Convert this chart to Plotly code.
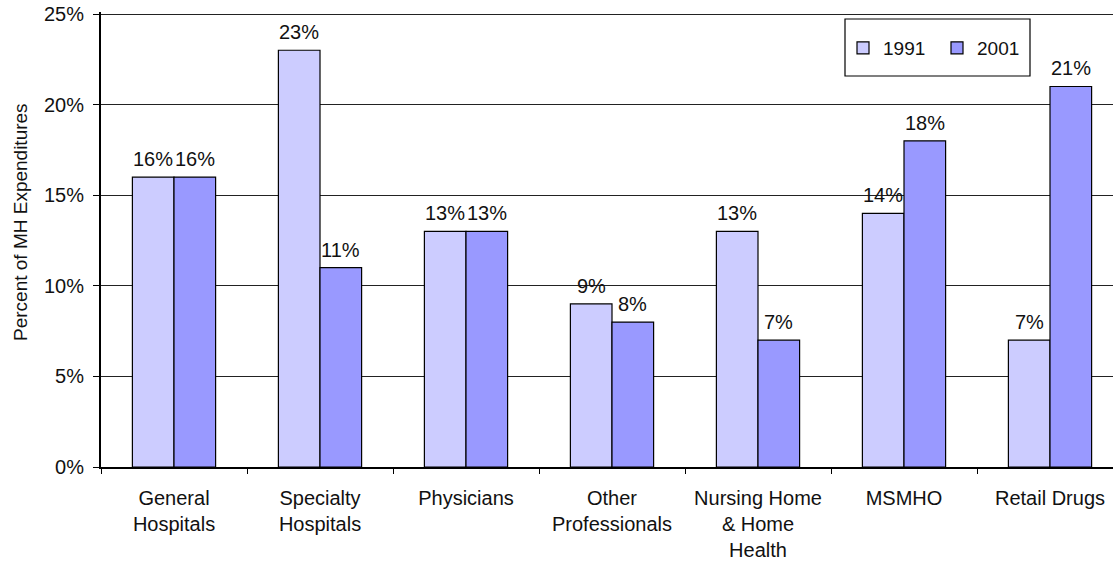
import plotly.graph_objects as go

categories = ["General<br>Hospitals", "Specialty<br>Hospitals", "Physicians", "Other<br>Professionals",
              "Nursing Home<br>& Home<br>Health", "MSMHO", "Retail Drugs"]
values_1991 = [16, 23, 13, 9, 13, 14, 7]
values_2001 = [16, 11, 13, 8, 7, 18, 21]
y_ticks = [0, 5, 10, 15, 20, 25]
y_tick_labels = ["0%", "5%", "10%", "15%", "20%", "25%"]

FONT = "Liberation Sans, Arial, sans-serif"
TXT = "#111"
OFF = 0                      # page body margin (removed by post_script)
W, H = 1113 - OFF, 567 - OFF
px_per_unit = 453 / 25.0
y_top = 25 + 2 / px_per_unit
SX0, SY1 = 101, 467           # plot area left / bottom in screen px
SY0 = SY1 - y_top * px_per_unit
ML, MT, MB, MR = SX0 - OFF, SY0 - OFF, 567 - SY1, 0
pw = W - ML - MR
ph = H - MT - MB
cat_w = 146.0
x_hi = pw / cat_w - 0.5
bargap = 0.43
half_bar = cat_w * (1 - bargap) / 4


def sx(p):
    return (p - SX0) / pw


def sy(p):
    return (SY1 - p) / ph


fig = go.Figure()
fig.add_trace(go.Bar(
    name="1991", x=categories, y=values_1991,
    marker=dict(color="#CCCCFF", line=dict(color="black", width=1.2)),
))
fig.add_trace(go.Bar(
    name="2001", x=categories, y=values_2001,
    marker=dict(color="#9999FF", line=dict(color="black", width=1.2)),
))

for vals, shift in ((values_1991, -half_bar), (values_2001, half_bar)):
    for c, v in zip(categories, vals):
        fig.add_annotation(x=c, y=v, xref="x", yref="y", text=f"{v}%", showarrow=False,
                           xshift=shift, yshift=5, yanchor="bottom", xanchor="center",
                           font=dict(family=FONT, size=20, color=TXT))

fig.add_shape(type="rect", xref="paper", yref="paper",
              x0=sx(845), x1=sx(1030), y0=sy(76), y1=sy(19),
              line=dict(color="black", width=1.2), fillcolor="white", layer="below")

fig.add_annotation(text="Percent of MH Expenditures", xref="paper", yref="paper",
                   x=sx(20), y=sy(222), textangle=-90,
                   showarrow=False, font=dict(family=FONT, size=19, color=TXT),
                   xanchor="center", yanchor="middle")

fig.update_layout(
    width=W, height=H,
    margin=dict(l=ML, r=MR, t=MT, b=MB, autoexpand=False),
    paper_bgcolor="white", plot_bgcolor="rgba(0,0,0,0)",
    barmode="group", bargap=bargap, bargroupgap=0,
    font=dict(family=FONT, size=20, color=TXT),
    showlegend=True,
    legend=dict(orientation="h", x=sx(843), y=sy(48),
                xanchor="left", yanchor="middle", bgcolor="rgba(0,0,0,0)",
                font=dict(family=FONT, size=19, color=TXT),
                entrywidth=49, itemwidth=30),
)
fig.update_xaxes(
    range=[-0.5, x_hi], showline=True, linecolor="black", linewidth=1.5,
    ticks="outside", tickson="boundaries", ticklen=5, tickcolor="black",
    ticklabelstandoff=12,
    tickfont=dict(family=FONT, size=20, color=TXT), showgrid=False,
)
fig.update_yaxes(
    range=[0, y_top], tickvals=y_ticks, ticktext=y_tick_labels,
    showline=True, linecolor="black", linewidth=2,
    ticks="outside", ticklen=6, tickcolor="black", ticklabelstandoff=5,
    ticklabeloverflow="allow",
    showgrid=True, gridcolor="#222", gridwidth=1,
    tickfont=dict(family=FONT, size=20, color=TXT), zeroline=False,
)

fig.write_html("out.html", config={"displayModeBar": False},
               post_script="document.body.style.margin='0px';")
